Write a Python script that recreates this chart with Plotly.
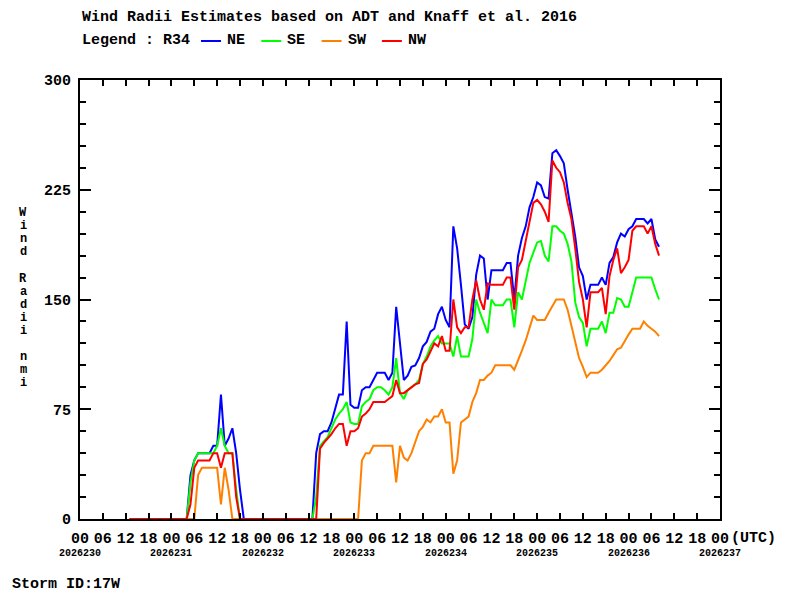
import pandas as pd
import plotly.graph_objects as go

# R34 wind radii (nmi), hourly from 2026-08-18 13Z
r34_ne = [0, 0, 0, 0, 0, 0, 0, 0, 0, 0, 0, 0, 0, 0, 0, 0,
          30, 40, 45, 45, 45, 45, 50, 50, 85, 50, 55, 62, 45, 20,
          0, 0, 0, 0, 0, 0, 0, 0, 0, 0, 0, 0, 0, 0, 0, 0, 0, 0, 0,
          45, 58, 60, 60, 66, 75, 85, 85, 135, 78, 76, 76, 88, 90, 90, 95, 100,
          100, 100, 95, 100, 145, 120, 95, 98, 104, 105, 110, 118, 121, 128, 130, 140,
          145, 136, 131, 200, 185, 160, 133, 130, 138, 167, 180, 178, 150, 170, 170, 170,
          170, 175, 175, 150, 180, 192, 200, 213, 220, 230, 228, 220, 219, 250, 252, 248,
          243, 225, 208, 193, 172, 166, 150, 160, 160, 160, 165, 160, 175, 179, 189, 195,
          193, 198, 200, 205, 205, 205, 202, 205, 191, 186]
r34_se = [0, 0, 0, 0, 0, 0, 0, 0, 0, 0, 0, 0, 0, 0, 0, 0,
          25, 40, 45, 45, 45, 45, 45, 50, 62, 50, 45, 45, 20, 0,
          0, 0, 0, 0, 0, 0, 0, 0, 0, 0, 0, 0, 0, 0, 0, 0, 0, 0, 0,
          15, 50, 53, 56, 62, 68, 72, 75, 80, 66, 65, 65, 77, 80, 82, 88, 90,
          90, 88, 85, 90, 110, 86, 82, 88, 90, 92, 95, 106, 111, 118, 122, 125,
          120, 120, 120, 111, 125, 111, 111, 111, 123, 150, 141, 134, 127, 150, 146, 146,
          146, 150, 150, 131, 155, 150, 162, 175, 182, 189, 190, 180, 176, 200, 200, 197,
          195, 188, 176, 148, 138, 134, 118, 130, 130, 130, 135, 127, 141, 141, 151, 150,
          145, 145, 155, 165, 165, 165, 165, 165, 157, 150]
r34_sw = [0, 0, 0, 0, 0, 0, 0, 0, 0, 0, 0, 0, 0, 0, 0, 0,
          0, 0, 30, 35, 35, 35, 35, 35, 10, 35, 20, 0, 0, 0,
          0, 0, 0, 0, 0, 0, 0, 0, 0, 0, 0, 0, 0, 0, 0, 0, 0, 0, 0,
          0, 0, 0, 0, 0, 0, 0, 0, 0, 0, 0, 0, 40, 45, 45, 50, 50,
          50, 50, 50, 50, 25, 50, 42, 40, 45, 52, 60, 63, 68, 66, 70, 70,
          75, 66, 66, 31, 40, 66, 68, 70, 80, 86, 95, 95, 98, 100, 105, 105,
          105, 105, 105, 102, 108, 115, 122, 130, 139, 136, 136, 136, 141, 146, 150, 150,
          150, 143, 132, 120, 110, 104, 97, 100, 100, 100, 102, 105, 108, 112, 116, 117,
          122, 126, 130, 130, 130, 135, 132, 130, 128, 125]
r34_nw = [0, 0, 0, 0, 0, 0, 0, 0, 0, 0, 0, 0, 0, 0, 0, 0,
          10, 35, 40, 40, 40, 40, 45, 45, 35, 45, 45, 45, 15, 0,
          0, 0, 0, 0, 0, 0, 0, 0, 0, 0, 0, 0, 0, 0, 0, 0, 0, 0, 0,
          0, 48, 52, 55, 58, 62, 65, 65, 50, 60, 60, 62, 70, 72, 75, 80, 80,
          80, 80, 82, 84, 95, 86, 86, 88, 90, 92, 93, 106, 109, 115, 120, 118,
          125, 115, 115, 150, 131, 127, 131, 131, 150, 163, 150, 143, 161, 160, 160, 160,
          160, 165, 165, 143, 172, 177, 190, 205, 216, 218, 215, 210, 203, 245, 240, 237,
          230, 216, 205, 185, 162, 150, 131, 155, 155, 155, 158, 140, 166, 177, 185, 168,
          172, 177, 197, 200, 200, 200, 195, 200, 188, 180]

times = pd.date_range("2026-08-18 13:00", periods=len(r34_ne), freq="h")

series = [("NE", r34_ne, "#0000ff"), ("SE", r34_se, "#00ff00"),
          ("SW", r34_sw, "#ff8000"), ("NW", r34_nw, "#ff0000")]

day_ticks = pd.date_range("2026-08-18", "2026-08-25", freq="D")
six_hour_ticks = pd.date_range("2026-08-18", "2026-08-25", freq="6h")
hour_labels = ["00", "06", "12", "18"]
month_labels = ["AUG18", "AUG19", "AUG20", "AUG21", "AUG22", "AUG23", "AUG24", "AUG25"]
julian_labels = ["2026230", "2026231", "2026232", "2026233",
                 "2026234", "2026235", "2026236", "2026237"]
ytitle = "Wind Radii nmi"

FONT = "Liberation Mono"
f15 = dict(family=FONT, size=15, color="black", weight="bold")
f10 = dict(family=FONT, size=10, color="black", weight="bold")

fig = go.Figure()
for name, vals, col in series:
    fig.add_trace(go.Scatter(x=times, y=vals, mode="lines", name=name,
                             line=dict(color=col, width=2), showlegend=False))

# page has an 8px body margin, so the figure is 792x592 and the plot box lands at 80..720 / 80..519
xrange = [day_ticks[0], day_ticks[-1]]
fig.update_layout(
    width=792, height=592,
    margin=dict(l=72, r=80, t=72, b=81),
    plot_bgcolor="white", paper_bgcolor="white",
    xaxis=dict(type="date", range=xrange, tickvals=six_hour_ticks,
               ticktext=[hour_labels[i % 4] for i in range(len(six_hour_ticks))],
               ticks="inside", ticklen=6, tickwidth=2, tickcolor="black",
               showline=True, linewidth=2, linecolor="black", mirror="ticks",
               showgrid=False, zeroline=False, tickfont=f15, ticklabelstandoff=4),
    xaxis2=dict(type="date", range=xrange, overlaying="x", side="top", anchor="y",
                tickvals=day_ticks, ticktext=month_labels,
                ticks="inside", ticklen=11, tickwidth=2, tickcolor="black",
                showline=True, linewidth=2, linecolor="black", mirror="ticks",
                showgrid=False, zeroline=False, tickfont=f15, ticklabelstandoff=4),
    yaxis=dict(range=[0, 300], tickvals=[0, 75, 150, 225, 300],
               ticks="inside", ticklen=11, tickwidth=2, tickcolor="black",
               minor=dict(dtick=15, ticks="inside", ticklen=6, tickwidth=2, tickcolor="black"),
               showline=True, linewidth=2, linecolor="black", mirror="ticks",
               showgrid=False, zeroline=False, tickfont=f15, ticklabelstandoff=4),
)

def py(pix):
    return (519 - pix) / 439

def px(pix):
    return (pix - 80) / 640

ann = [
    dict(text="Wind Radii Estimates based on ADT and Knaff et al. 2016",
         x=0, y=py(17), xanchor="left", font=f15),
    dict(text="Legend : R34", x=0, y=py(41), xanchor="left", font=f15),
    dict(text="(UTC)", x=px(729), y=py(538), xanchor="left", font=f15),
    dict(text="Storm ID:17W", x=px(10), y=py(584), xanchor="left", font=f15),
]
# vertical y-axis title, one upright character per row
for k, ch in enumerate(ytitle):
    if ch != " ":
        ann.append(dict(text=ch, x=px(23), y=py(213 + 13.1 * k), xanchor="center",
                        font=dict(family=FONT, size=12, color="black", weight="bold")))
for i, (name, vals, col) in enumerate(series):
    x0 = 201 + 60.3 * i
    fig.add_shape(type="line", xref="paper", yref="paper",
                  x0=px(x0), x1=px(x0 + 20), y0=py(41), y1=py(41),
                  line=dict(color=col, width=2))
    ann.append(dict(text=name, x=px(x0 + 24), y=py(41), xanchor="left", font=f15))
for d, lab in zip(day_ticks, julian_labels):
    ann.append(dict(text=lab, x=d, xref="x", y=py(553), xanchor="center", font=f10))

for a in ann:
    a.setdefault("xref", "paper")
    a["yref"] = "paper"
    a["yanchor"] = "middle"
    a["showarrow"] = False
fig.update_layout(annotations=ann)

fig.write_html("out.html")
